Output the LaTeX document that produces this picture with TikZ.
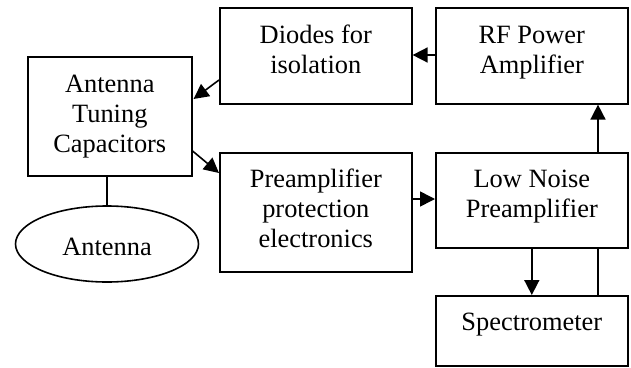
\documentclass[tikz,border=0pt]{standalone}
\usepackage{fontspec}
\setmainfont{Liberation Serif}
\newfontfamily\tnrfont{Liberation Serif}
\usetikzlibrary{calc,arrows.meta,shapes.geometric}
\begin{document}
\begin{tikzpicture}[x=1pt,y=-1pt,
  box/.style={draw,line width=1.6pt,rectangle,inner sep=0pt,anchor=north west},
  lbl/.style={anchor=base,inner sep=0pt,font=\tnrfont\fontsize{26.4}{30}\selectfont},
  conn/.style={line width=1.6pt},
  arr/.style={conn,-{Triangle[length=15pt,width=15pt]}}]
\useasboundingbox (0,0) rectangle (631,367);
% boxes
\node[box,minimum width=164pt,minimum height=119pt] (atc) at (27,56) {};
\node[box,minimum width=192pt,minimum height=96pt] (dio) at (219,7) {};
\node[box,minimum width=192pt,minimum height=96pt] (rfa) at (435,7) {};
\node[box,minimum width=192pt,minimum height=119pt] (pre) at (219,152) {};
\node[box,minimum width=192pt,minimum height=95pt] (lnp) at (435,152) {};
\node[box,minimum width=192pt,minimum height=70pt] (spe) at (435,295) {};
\node[draw,line width=1.6pt,ellipse,inner sep=0pt,minimum width=183pt,minimum height=76pt] (ant) at (107,244) {};
% texts
\node[lbl] (tatc) at ($(atc.north)+(0,36)$) {\parbox[t]{160pt}{\centering Antenna\\Tuning\\Capacitors}};
\node[lbl] (tdio) at ($(dio.north)+(0,36)$) {\parbox[t]{188pt}{\centering Diodes for\\isolation}};
\node[lbl] (trfa) at ($(rfa.north)+(0,36)$) {\parbox[t]{188pt}{\centering RF Power\\Amplifier}};
\node[lbl] (tpre) at ($(pre.north)+(0,35)$) {\parbox[t]{188pt}{\centering Preamplifier\\protection\\electronics}};
\node[lbl] (tlnp) at ($(lnp.north)+(0,35)$) {\parbox[t]{188pt}{\centering Low Noise\\Preamplifier}};
\node[lbl] (tspe) at ($(spe.north)+(0,35)$) {Spectrometer};
\node[lbl] (tant) at ($(ant.center)+(0,11)$) {Antenna};
% connectors
\coordinate (d1) at ($(dio.north west)+(0,73)$);
\coordinate (a1) at ($(atc.north east)+(1,43)$);
\draw[arr] (d1) -- (a1);
\coordinate (a2) at ($(atc.north east)+(0,95)$);
\coordinate (p1) at ($(pre.north west)+(0,21)$);
\draw[arr] (a2) -- (p1);
\draw[arr] ($(rfa.north west)+(0,48)$) -- ($(dio.north east)+(0,48)$);
\draw[arr] ($(pre.north east)+(0,47)$) -- ($(lnp.north west)+(0,47)$);
\draw[arr] ($(lnp.north west)+(163,0)$) -- ($(rfa.south west)+(163,0)$);
\draw[arr] (lnp.south) -- (spe.north);
\draw[conn] ($(spe.north west)+(163,0)$) -- ($(lnp.south west)+(163,0)$);
\draw[conn] (atc.south -| ant.north) -- (ant.north);
\end{tikzpicture}
\end{document}
